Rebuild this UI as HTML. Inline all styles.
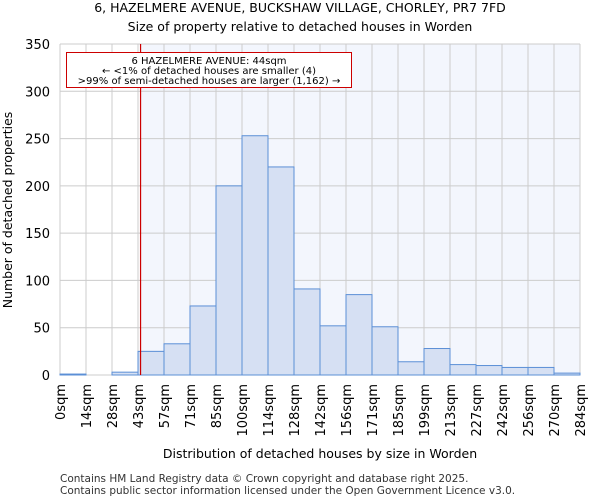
<!DOCTYPE html>
<html><head><meta charset="utf-8"><style>
body{margin:0;background:#fff;font-family:"DejaVu Sans","Liberation Sans",sans-serif}
</style></head><body>
<svg id="chart" width="600" height="500" xmlns="http://www.w3.org/2000/svg" font-family="DejaVu Sans, Liberation Sans, sans-serif">
<text x="300" y="12" text-anchor="middle" font-size="12.5">6, HAZELMERE AVENUE, BUCKSHAW VILLAGE, CHORLEY, PR7 7FD</text>
<text x="300" y="31" text-anchor="middle" font-size="12.5">Size of property relative to detached houses in Worden</text>
<g id="plot"></g>
<text x="320" y="458" text-anchor="middle" font-size="12.5">Distribution of detached houses by size in Worden</text>
<text transform="translate(12,210) rotate(-90)" text-anchor="middle" font-size="12.5">Number of detached properties</text>
<text x="60" y="482" font-size="10.5" fill="#333">Contains HM Land Registry data © Crown copyright and database right 2025.</text>
<text x="60" y="494" font-size="10.5" fill="#333">Contains public sector information licensed under the Open Government Licence v3.0.</text>
</svg>
<script>
const binLabels=["0sqm","14sqm","28sqm","43sqm","57sqm","71sqm","85sqm","100sqm","114sqm","128sqm","142sqm","156sqm","171sqm","185sqm","199sqm","213sqm","227sqm","242sqm","256sqm","270sqm","284sqm"];
const binEdges=[0,14.2,28.4,42.6,56.8,71,85.2,99.4,113.6,127.8,142,156.2,170.4,184.6,198.8,213,227.2,241.4,255.6,269.8,284];
const counts=[1,0,3,25,33,73,200,253,220,91,52,85,51,14,28,11,10,8,8,2];
const yTicks=[0,50,100,150,200,250,300,350];
const propertySize=44;
const NS="http://www.w3.org/2000/svg";
const L=60,R=580,T=44,B=375;
const x=v=>L+(v-binEdges[0])/(binEdges[binEdges.length-1]-binEdges[0])*(R-L);
const y=v=>B-v/350*(B-T);
const g=document.getElementById('plot');
function mk(t,a){const e=document.createElementNS(NS,t);for(const k in a)e.setAttribute(k,a[k]);g.appendChild(e);return e;}
const px=x(propertySize);
let e=mk('rect',{x:px,y:T,width:R-px,height:B-T,fill:'#f3f6fd'});


yTicks.forEach(t=>{let l=mk('line',{x1:L,x2:R,y1:y(t),y2:y(t),stroke:'#ccc','stroke-width':1});


let tx=mk('text',{x:L-10,y:y(t)+5,'text-anchor':'end','font-size':13});tx.textContent=t;

});
binEdges.forEach((b,i)=>{let l=mk('line',{x1:x(b),x2:x(b),y1:T,y2:B,stroke:'#ccc','stroke-width':1});


let tx=mk('text',{transform:`translate(${x(b)+5},384) rotate(-90)`,'text-anchor':'end','font-size':13});tx.textContent=binLabels[i];

});
counts.forEach((c,i)=>{let r=mk('rect',{x:x(binEdges[i]),y:y(c),width:x(binEdges[i+1])-x(binEdges[i]),height:B-y(c),fill:'#d6e0f3',stroke:'#5b8fd6','stroke-width':1});

});
let rl=mk('line',{x1:px,x2:px,y1:T,y2:B,stroke:'#cc0000','stroke-width':1.2});


let box=mk('rect',{x:66.5,y:52.5,width:285,height:35,fill:'#fff',stroke:'#cc0000','stroke-width':1});


["6 HAZELMERE AVENUE: 44sqm","← <1% of detached houses are smaller (4)",">99% of semi-detached houses are larger (1,162) →"].forEach((s,i)=>{let t=mk('text',{x:209,y:64+i*10,'text-anchor':'middle','font-size':10});t.textContent=s;

});
</script>
</body></html>
